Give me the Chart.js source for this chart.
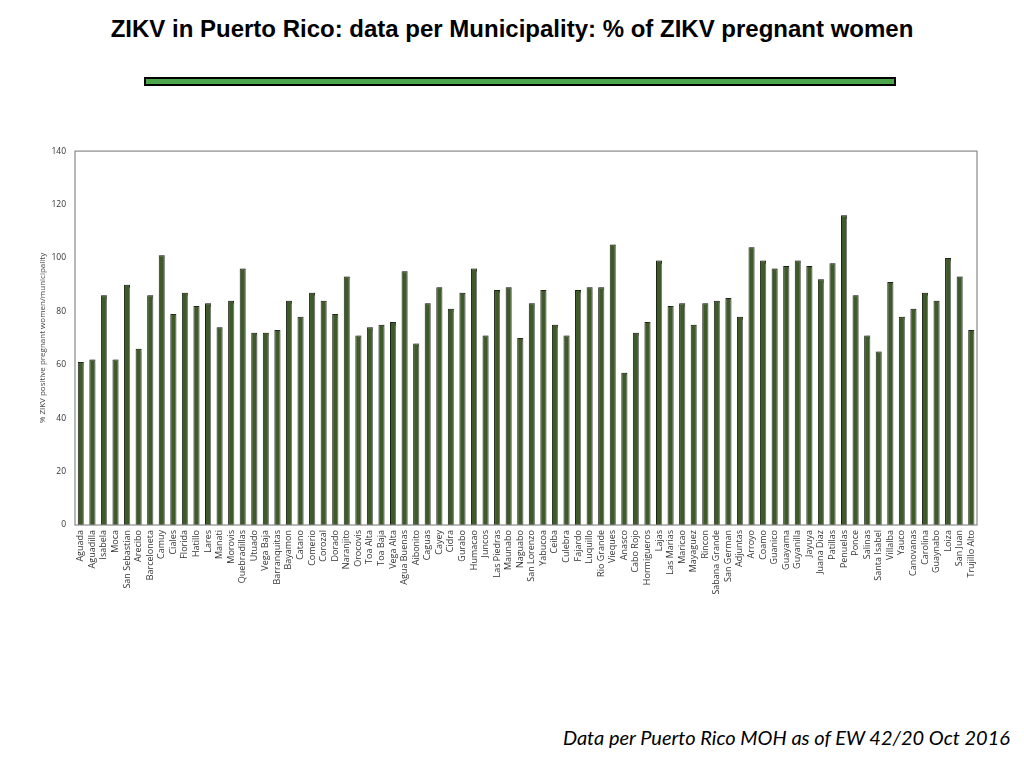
<!DOCTYPE html>
<html>
<head>
<meta charset="utf-8">
<script src="https://cdn.jsdelivr.net/npm/chart.js@4.4.1/dist/chart.umd.min.js"></script>
<style>
  html, body { margin: 0; padding: 0; background: #fff; width: 1024px; height: 768px; overflow: hidden; }
  #title { position: absolute; left: 0; top: 15px; width: 1024px; text-align: center;
    font-family: "Liberation Sans", Arial, sans-serif; font-weight: bold; font-size: 24px; color: #000; }
  #rule { position: absolute; left: 144px; top: 77px; width: 748px; height: 5px;
    background: #4ca64c; border: 2px solid #000; }
  #note { position: absolute; right: 14px; top: 725px; font-family: "Lato", "Open Sans", sans-serif;
    font-style: italic; font-size: 20px; color: #000; }
  #wrap { position: absolute; left: 0; top: 137px; width: 1024px; height: 493px; }
</style>
</head>
<body>
<div id="title">ZIKV in Puerto Rico: data per Municipality: % of ZIKV pregnant women</div>
<div id="rule"></div>
<div id="wrap"><canvas id="c"></canvas></div>
<div id="note">Data per Puerto Rico MOH as of EW 42/20 Oct 2016</div>
<script>
const municipalities = ["Aguada","Aguadilla","Isabela","Moca","San Sebastian","Arecibo","Barceloneta","Camuy","Ciales","Florida","Hatillo","Lares","Manati","Morovis","Quebradillas","Utuado","Vega Baja","Barranquitas","Bayamon","Catano","Comerio","Corozal","Dorado","Naranjito","Orocovis","Toa Alta","Toa Baja","Vega Alta","Agua Buenas","Aibonito","Caguas","Cayey","Cidra","Gurabo","Humacao","Juncos","Las Piedras","Maunabo","Naguabo","San Lorenzo","Yabucoa","Ceiba","Culebra","Fajardo","Luquillo","Rio Grande","Vieques","Anasco","Cabo Rojo","Hormigueros","Lajas","Las Marias","Maricao","Mayaguez","Rincon","Sabana Grande","San German","Adjuntas","Arroyo","Coamo","Guanico","Guayama","Guyanilla","Jayuya","Juana Diaz","Patillas","Penuelas","Ponce","Salinas","Santa Isabel","Villalba","Yauco","Canovanas","Carolina","Guaynabo","Loiza","San Juan","Trujillo Alto"];
const pctPositive = [61,62,86,62,90,66,86,101,79,87,82,83,74,84,96,72,72,73,84,78,87,84,79,93,71,74,75,76,95,68,83,89,81,87,96,71,88,89,70,83,88,75,71,88,89,89,105,57,72,76,99,82,83,75,83,84,85,78,104,99,96,97,99,97,92,98,116,86,71,65,91,78,81,87,84,100,93,73];
const yTicks = [0,20,40,60,80,100,120,140];

const framePlugin = {
  id: 'frame',
  beforeDatasetsDraw(chart) {
    const ctx = chart.ctx;
    ctx.save();
    ctx.shadowColor = 'rgba(150,150,150,0.8)';
    ctx.shadowOffsetX = 1.5;
    ctx.shadowOffsetY = 0;
    ctx.shadowBlur = 1;
  },
  afterDatasetsDraw(chart) {
    chart.ctx.restore();
    const {left, right, top, bottom} = chart.chartArea;
    const ctx = chart.ctx;
    ctx.save();
    ctx.strokeStyle = '#8a8a8a';
    ctx.lineWidth = 1.2;
    ctx.strokeRect(left, top, right - left, bottom - top);
    ctx.restore();
  }
};

new Chart(document.getElementById('c'), {
  type: 'bar',
  data: {
    labels: municipalities,
    datasets: [{
      data: pctPositive,
      backgroundColor: '#3d5a28',
      borderColor: '#1c2414',
      borderWidth: 1,
      barPercentage: 0.52,
      categoryPercentage: 1.0
    }]
  },
  options: {
    responsive: true,
    maintainAspectRatio: false,
    animation: false,
    devicePixelRatio: 1,
    layout: { padding: { top: 7, right: 47, left: 0, bottom: 0 } },
    plugins: { legend: { display: false }, tooltip: { enabled: false } },
    scales: {
      x: {
        grid: { display: false, drawTicks: false },
        border: { display: false },
        ticks: {
          autoSkip: false, minRotation: 90, maxRotation: 90, padding: 5,
          color: '#333', font: { family: '"Open Sans", sans-serif', size: 9 }
        },
        afterFit(scale) { scale.height = 105; }
      },
      y: {
        min: 0, max: 140,
        afterBuildTicks(scale) { scale.ticks = yTicks.map(v => ({ value: v })); },
        grid: { display: false, drawTicks: false },
        border: { display: false },
        ticks: { padding: 9, color: '#333', font: { family: '"Open Sans", sans-serif', size: 8.5 } },
        title: {
          display: true, text: '% ZIKV positive pregnant women/municipality',
          color: '#444', font: { family: '"Open Sans", sans-serif', size: 8 }, padding: { top: 38, bottom: 4 }
        },
        afterFit(scale) { scale.width = 75; }
      }
    }
  },
  plugins: [framePlugin]
});
</script>
</body>
</html>
